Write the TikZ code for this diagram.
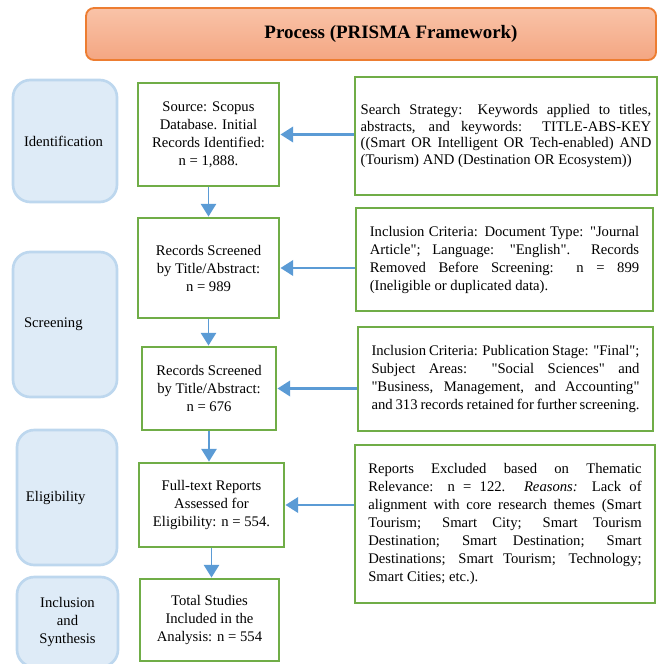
\documentclass[tikz,border=0pt]{standalone}
\usepackage{fontspec}
\setmainfont{Liberation Serif}[Ligatures=TeXOff]
\usetikzlibrary{arrows.meta}
\definecolor{boxgreen}{HTML}{70AD47}
\definecolor{stagefill}{HTML}{DEEBF7}
\definecolor{stageline}{HTML}{BDD7EE}
\definecolor{arrowblue}{HTML}{5B9BD5}
\definecolor{titletop}{HTML}{F9C3A8}
\definecolor{titlebot}{HTML}{F4A682}
\definecolor{titleline}{HTML}{ED7D31}
\begin{document}
\begin{tikzpicture}[x=0.75pt, y=-0.75pt,
    font=\fontsize{11}{13.5}\selectfont,
    stage/.style={draw=stageline, line width=2pt, fill=stagefill, rounded corners=13pt, inner sep=0pt, text width=61.5pt, align=left},
    stepbox/.style={draw=boxgreen, line width=2.2pt, fill=white, align=center, inner sep=0pt},
    notebox/.style={draw=boxgreen, line width=2.2pt, fill=white, align=justify, inner sep=0pt},
    flow/.style={draw=arrowblue, line width=1.9pt, -{Triangle[width=11.5pt,length=9.5pt]}},
    down/.style={flow, line width=1.2pt}]
    \clip (0,0) rectangle (660,664);

    \node[draw=titleline, line width=1.4pt, rounded corners=6pt, top color=titletop, bottom color=titlebot,
          minimum width=427.5pt, minimum height=39pt, font=\fontsize{14.2}{16}\selectfont\bfseries]
        (title) at (371,34) {\hspace*{30pt}Process (PRISMA Framework)};

    \node[stage, minimum width=78pt, minimum height=91.5pt] (ident) at (65,141) {Identification};
    \node[stage, minimum width=78pt, minimum height=108.75pt] (screen) at (65,324.5) {Screening};
    \node[stage, minimum width=75pt, minimum height=101.25pt] (elig) at (67,497.5) {Eligibility};
    \node[stage, align=center, minimum width=75.75pt, minimum height=67.5pt] (incl) at (67.5,622) {Inclusion\\and\\Synthesis};

    \node[stepbox, minimum width=105.75pt, minimum height=77.25pt] (src) at (208.5,134.5)
        {Source: Scopus\\Database. Initial\\Records Identified:\\n = 1,888.};
    \node[stepbox, minimum width=105.75pt, minimum height=75pt] (scr1) at (208.5,268)
        {Records Screened\\by Title/Abstract:\\n = 989};
    \node[stepbox, minimum width=100.5pt, minimum height=62.25pt] (scr2) at (209,388.5)
        {Records Screened\\by Title/Abstract:\\n = 676};
    \node[stepbox, minimum width=108.75pt, minimum height=63pt] (full) at (211.5,505)
        {Full-text Reports\\Assessed for\\Eligibility: n = 554.};
    \node[stepbox, minimum width=104.25pt, minimum height=61.5pt] (total) at (209.5,620)
        {Total Studies\\Included in the\\Analysis: n = 554};

    \node[notebox, text width=218pt, minimum width=226.5pt, minimum height=88.5pt,
          font=\fontsize{11}{12.5}\selectfont] (search) at (506,136)
        {Search Strategy: Keywords applied to titles,\linebreak
         abstracts, and keywords: TITLE-ABS-KEY\linebreak
         ((Smart OR Intelligent OR Tech-enabled) AND\linebreak
         (Tourism) AND (Destination OR Ecosystem))};
    \node[notebox, text width=202pt, minimum width=222.75pt, minimum height=77.25pt] (inc1) at (504.5,259.5)
        {Inclusion Criteria: Document Type: "Journal\linebreak
         Article"; Language: "English". Records\linebreak
         Removed Before Screening: n = 899\linebreak
         (Ineligible or duplicated data).};
    \node[notebox, text width=201pt, minimum width=221.25pt, minimum height=78pt] (inc2) at (505.5,379)
        {Inclusion Criteria: Publication Stage: "Final";\linebreak
         Subject Areas: "Social Sciences" and\linebreak
         "Business, Management, and Accounting"\linebreak
         and 313 records retained for further screening.};
    \node[notebox, text width=205pt, minimum width=225pt, minimum height=118.5pt] (rep) at (505,524)
        {Reports Excluded based on Thematic\linebreak
         Relevance: n = 122. \textit{Reasons:} Lack of\linebreak
         alignment with core research themes (Smart\linebreak
         Tourism; Smart City; Smart Tourism\linebreak
         Destination; Smart Destination; Smart\linebreak
         Destinations; Smart Tourism; Technology;\linebreak
         Smart Cities; etc.).};

    \draw[flow] (search.west |- src.east) -- (src.east);
    \draw[flow] (inc1.west |- scr1.east) -- (scr1.east);
    \draw[flow] (inc2.west |- scr2.east) -- (scr2.east);
    \draw[flow] (rep.west |- full.east) -- (full.east);

    \draw[down] (src.south) -- (scr1.north);
    \draw[down] (scr1.south) -- (scr1.south |- scr2.north);
    \draw[down] (scr2.south) -- (scr2.south |- full.north);
    \draw[down] (full.south) -- (full.south |- total.north);
\end{tikzpicture}
\end{document}
